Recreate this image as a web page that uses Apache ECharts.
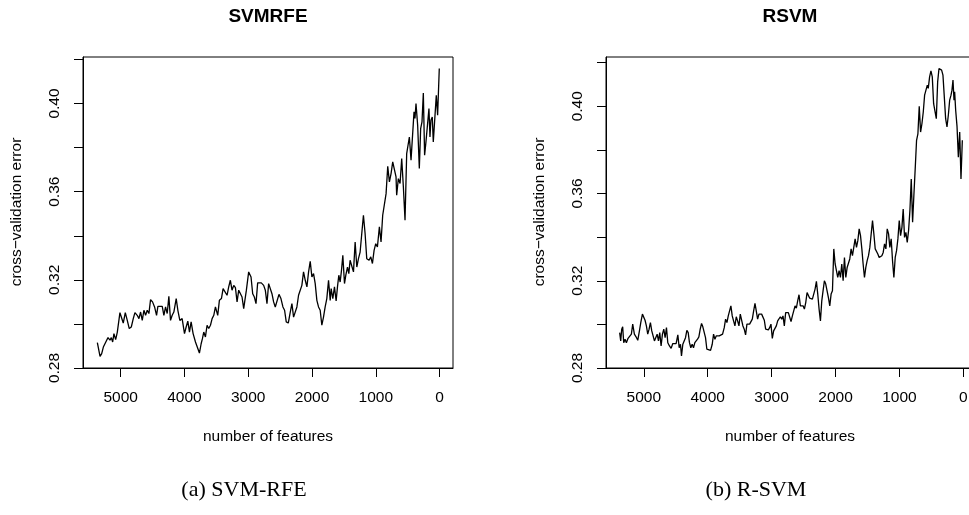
<!DOCTYPE html>
<html>
<head>
<meta charset="utf-8">
<script src="https://cdn.jsdelivr.net/npm/echarts@6/dist/echarts.min.js"></script>
<style>
html,body{margin:0;padding:0;background:#fff;}
#chart{width:969px;height:515px;}
</style>
</head>
<body>
<div id="chart"></div>
<script>
// ---- data ----
const titles = ["SVMRFE", "RSVM"];
const captions = ["(a) SVM-RFE", "(b) R-SVM"];
const xName = "number of features";
const yName = "cross\u2212validation error";
const xTicks = [0, 1000, 2000, 3000, 4000, 5000];
const yTicks = [0.28, 0.30, 0.32, 0.34, 0.36, 0.38, 0.40, 0.42];
const yLabels = [0.28, 0.32, 0.36, 0.40];

const featsA = [5365,5323,5297,5271,5219,5198,5167,5146,5125,5105,
5078,5052,5011,4990,4959,4927,4896,4865,4833,4802,
4776,4740,4713,4687,4661,4635,4609,4583,4557,4531,
4500,4468,4437,4416,4385,4348,4322,4296,4270,4244,
4218,4192,4166,4129,4103,4072,4036,3999,3973,3947,
3921,3895,3864,3827,3801,3765,3738,3718,3697,3671,
3645,3619,3592,3566,3540,3514,3478,3452,3420,3394,
3368,3332,3306,3280,3254,3227,3201,3175,3149,3123,
3097,3071,3029,2993,2956,2930,2904,2878,2852,2821,
2795,2758,2732,2706,2680,2654,2628,2602,2576,2550,
2518,2487,2456,2430,2404,2372,2341,2315,2289,2263,
2237,2211,2185,2159,2133,2106,2080,2054,2028,2002,
1976,1950,1924,1898,1872,1846,1820,1794,1768,1741,
1715,1700,1674,1648,1622,1601,1580,1559,1538,1517,
1491,1470,1444,1423,1403,1376,1350,1324,1298,1272,
1246,1220,1194,1168,1142,1105,1079,1053,1027,1001,
975,944,918,892,866,839,813,787,761,735,
709,683,673,647,620,594,568,542,516,490,
474,448,422,401,386,370,344,318,297,276,
255,235,214,188,167,151,136,115,99,73,
52,31,5];
const valsA = [0.2915,0.2853,0.2865,0.2895,0.2926,0.2938,0.2926,0.2938,0.2918,0.2956,
0.2929,0.2963,0.3051,0.3047,0.3004,0.3051,0.3016,0.2979,0.2986,0.3024,
0.3051,0.3039,0.3024,0.3054,0.3016,0.3062,0.3039,0.3062,0.3047,0.3110,
0.3100,0.3077,0.3039,0.3080,0.3077,0.3080,0.3039,0.3077,0.3047,0.3125,
0.3016,0.3039,0.3054,0.3115,0.3062,0.3016,0.3024,0.2956,0.2986,0.3013,
0.2963,0.3009,0.2956,0.2918,0.2913,0.2868,0.2910,0.2933,0.2963,0.2941,
0.2994,0.2979,0.2994,0.3024,0.3039,0.3077,0.3039,0.3107,0.3115,0.3160,
0.3168,0.3130,0.3168,0.3198,0.3153,0.3175,0.3165,0.3100,0.3153,0.3153,
0.3122,0.3069,0.3153,0.3236,0.3213,0.3137,0.3122,0.3092,0.3186,0.3180,
0.3186,0.3175,0.3153,0.3092,0.3183,0.3175,0.3137,0.3100,0.3077,0.3084,
0.3134,0.3115,0.3077,0.3062,0.3009,0.3004,0.3054,0.3092,0.3031,0.3039,
0.3077,0.3130,0.3122,0.3175,0.3236,0.3198,0.3168,0.3236,0.3284,0.3213,
0.3228,0.3183,0.3107,0.3077,0.3062,0.2994,0.3031,0.3077,0.3115,0.3198,
0.3107,0.3160,0.3115,0.3168,0.3104,0.3168,0.3221,0.3190,0.3243,0.3311,
0.3183,0.3221,0.3258,0.3228,0.3289,0.3281,0.3236,0.3372,0.3258,0.3296,
0.3326,0.3410,0.3493,0.3410,0.3296,0.3289,0.3304,0.3274,0.3334,0.3364,
0.3349,0.3440,0.3372,0.3493,0.3500,0.3591,0.3715,0.3644,0.3682,0.3735,
0.3727,0.3667,0.3584,0.3659,0.3637,0.3750,0.3621,0.3470,0.3773,0.3780,
0.3848,0.3743,0.3735,0.3962,0.3932,0.4000,0.3901,0.3705,0.3886,0.3917,
0.4048,0.3765,0.3826,0.3833,0.3977,0.3848,0.3924,0.3939,0.3826,0.3826,
0.4037,0.3947,0.4159];

const featsB = [5377,5361,5345,5330,5314,5293,5272,5246,5220,5194,
5173,5147,5121,5094,5068,5047,5021,5000,4980,4959,
4938,4917,4896,4875,4854,4833,4812,4791,4770,4750,
4729,4708,4687,4666,4645,4624,4598,4572,4546,4520,
4494,4467,4446,4426,4410,4389,4368,4347,4326,4305,
4285,4264,4243,4222,4201,4180,4159,4138,4117,4096,
4076,4055,4034,4013,3987,3955,3929,3908,3887,3867,
3846,3819,3793,3767,3741,3720,3699,3678,3658,3637,
3616,3595,3574,3553,3532,3511,3490,3469,3449,3428,
3407,3386,3365,3344,3323,3302,3281,3260,3240,3219,
3198,3177,3156,3135,3114,3093,3072,3051,3031,3010,
2989,2968,2947,2926,2905,2884,2863,2842,2822,2801,
2780,2759,2738,2717,2696,2675,2654,2633,2613,2592,
2571,2550,2529,2508,2487,2466,2445,2424,2404,2383,
2362,2341,2320,2299,2278,2257,2236,2215,2195,2174,
2153,2132,2111,2090,2069,2048,2027,2006,1986,1965,
1944,1923,1902,1881,1860,1839,1818,1797,1777,1756,
1735,1714,1693,1672,1651,1630,1609,1588,1568,1547,
1526,1505,1484,1463,1442,1421,1400,1379,1359,1338,
1317,1296,1275,1254,1233,1212,1191,1170,1150,1129,
1108,1087,1066,1045,1024,1003,982,961,941,920,
899,878,857,836,815,794,773,752,732,711,
690,669,648,627,606,585,564,549,528,507,
486,465,444,423,402,381,361,340,319,298,
277,256,235,214,193,178,162,146,136,120,
99,78,57,37,16];
const valsB = [0.2962,0.2924,0.2978,0.2989,0.2916,0.2932,0.2916,0.2936,0.2943,0.2955,
0.3001,0.2955,0.2943,0.2927,0.2970,0.3008,0.3047,0.3050,0.3019,0.2993,
0.2955,0.2978,0.3008,0.2970,0.2962,0.2924,0.2916,0.2955,0.2924,0.2962,
0.2901,0.2955,0.2978,0.2939,0.2985,0.2916,0.2901,0.2890,0.2912,0.2912,
0.2912,0.2952,0.2893,0.2909,0.2855,0.2909,0.2916,0.2939,0.2973,0.2962,
0.2916,0.2893,0.2909,0.2893,0.2916,0.2909,0.2932,0.2943,0.2978,0.3004,
0.2989,0.2989,0.2939,0.2886,0.2878,0.2881,0.2909,0.2955,0.2932,0.2947,
0.2939,0.2947,0.2947,0.2955,0.2985,0.3024,0.3008,0.3039,0.3039,0.3085,
0.3039,0.3016,0.2993,0.3035,0.3016,0.2993,0.3047,0.3050,0.2993,0.2978,
0.2952,0.3001,0.3008,0.3001,0.3008,0.3024,0.3062,0.3096,0.3062,0.3024,
0.3047,0.3039,0.3047,0.3039,0.3019,0.2978,0.2978,0.2975,0.2985,0.3001,
0.2936,0.2970,0.2962,0.2993,0.3016,0.3024,0.3035,0.3024,0.3039,0.2993,
0.3054,0.3062,0.3054,0.3062,0.3013,0.3039,0.3062,0.3085,0.3074,0.3108,
0.3136,0.3085,0.3085,0.3085,0.3070,0.3100,0.3146,0.3139,0.3120,0.3113,
0.3116,0.3116,0.3162,0.3197,0.3139,0.3070,0.3016,0.3108,0.3154,0.3200,
0.3185,0.3154,0.3123,0.3085,0.3139,0.3154,0.3346,0.3277,0.3284,0.3215,
0.3246,0.3215,0.3277,0.3200,0.3307,0.3215,0.3261,0.3261,0.3300,0.3346,
0.3315,0.3315,0.3392,0.3353,0.3384,0.3438,0.3407,0.3346,0.3277,0.3215,
0.3261,0.3292,0.3315,0.3353,0.3415,0.3476,0.3415,0.3346,0.3346,0.3323,
0.3307,0.3315,0.3315,0.3330,0.3369,0.3346,0.3438,0.3415,0.3353,0.3392,
0.3292,0.3215,0.3307,0.3338,0.3392,0.3476,0.3407,0.3445,0.3529,0.3399,
0.3422,0.3376,0.3430,0.3522,0.3667,0.3468,0.3598,0.3721,0.3844,0.3874,
0.4000,0.3882,0.3920,0.3974,0.4051,0.4051,0.4097,0.4082,0.4135,0.4162,
0.4135,0.4012,0.4012,0.3943,0.4112,0.4173,0.4173,0.4166,0.4143,0.4043,
0.3943,0.3905,0.3959,0.4028,0.4051,0.4074,0.4120,0.4028,0.4066,0.3982,
0.3908,0.3767,0.3882,0.3667,0.3844];

// ---- chart ----
const SANS = '"Liberation Sans", Arial, Helvetica, sans-serif';
const SERIF = '"Liberation Serif", "DejaVu Serif", serif';
const chart = echarts.init(document.getElementById('chart'), null, {renderer: 'canvas'});

const panels = [
  {left: 83, xmin: -210, xmax: 5590, ymax: 0.4211, feats: featsA, vals: valsA, cx: 268, ylabX: 17, capX: 244},
  {left: 606, xmin: -198, xmax: 5591, ymax: 0.4226, feats: featsB, vals: valsB, cx: 790, ylabX: 540, capX: 756}
];

function xAxisFor(i, p) {
  return {
    type: 'value', gridIndex: i, inverse: true, min: p.xmin, max: p.xmax,
    splitLine: {show: false},
    axisLine: {show: true, onZero: false, lineStyle: {color: '#000', width: 1}},
    axisTick: {show: true, inside: false, length: 9, customValues: xTicks, lineStyle: {color: '#000', width: 1}},
    axisLabel: {show: true, customValues: xTicks, margin: 22, fontSize: 15.5, color: '#000', fontFamily: SANS,
      formatter: v => String(v)}
  };
}
function yAxisFor(i, p) {
  return {
    type: 'value', gridIndex: i, min: 0.28, max: p.ymax,
    splitLine: {show: false},
    axisLine: {show: true, onZero: false, lineStyle: {color: '#000', width: 1}},
    axisTick: {show: true, inside: false, length: 9, customValues: yTicks, lineStyle: {color: '#000', width: 1}},
    axisLabel: {show: true, customValues: yLabels, rotate: 90, margin: 20, fontSize: 15.5, color: '#000', fontFamily: SANS,
      formatter: v => Number(v).toFixed(2)}
  };
}

const graphics = [];
panels.forEach((p, i) => {
  graphics.push({type: 'text', x: p.cx, y: 17, style: {text: titles[i], font: 'bold 19px ' + SANS, fill: '#000',
    textAlign: 'center', textVerticalAlign: 'middle', align: 'center', verticalAlign: 'middle'}});
  graphics.push({type: 'text', x: p.cx, y: 437, style: {text: xName, font: '15.5px ' + SANS, fill: '#000',
    textAlign: 'center', textVerticalAlign: 'middle', align: 'center', verticalAlign: 'middle'}});
  graphics.push({type: 'text', x: p.ylabX, y: 212, rotation: Math.PI / 2, style: {text: yName, font: '15.5px ' + SANS, fill: '#000',
    textAlign: 'center', textVerticalAlign: 'middle', align: 'center', verticalAlign: 'middle'}});
  graphics.push({type: 'text', x: p.capX, y: 490, style: {text: captions[i], font: '22px ' + SERIF, fill: '#000',
    textAlign: 'center', textVerticalAlign: 'middle', align: 'center', verticalAlign: 'middle'}});
});

const option = {
  animation: false,
  backgroundColor: '#fff',
  grid: panels.map(p => ({left: p.left, top: 57, width: 370, height: 311, show: true,
    borderColor: '#000', borderWidth: 1, backgroundColor: 'transparent', containLabel: false,
    outerBoundsMode: 'none'})),
  xAxis: panels.map((p, i) => xAxisFor(i, p)),
  yAxis: panels.map((p, i) => yAxisFor(i, p)),
  series: panels.map((p, i) => ({
    type: 'line', xAxisIndex: i, yAxisIndex: i,
    data: p.feats.map((f, k) => [f, p.vals[k]]),
    showSymbol: false, symbol: 'none', clip: true,
    lineStyle: {color: '#000', width: 1.3}
  })),
  graphic: graphics
};
chart.setOption(option);
</script>
</body>
</html>
